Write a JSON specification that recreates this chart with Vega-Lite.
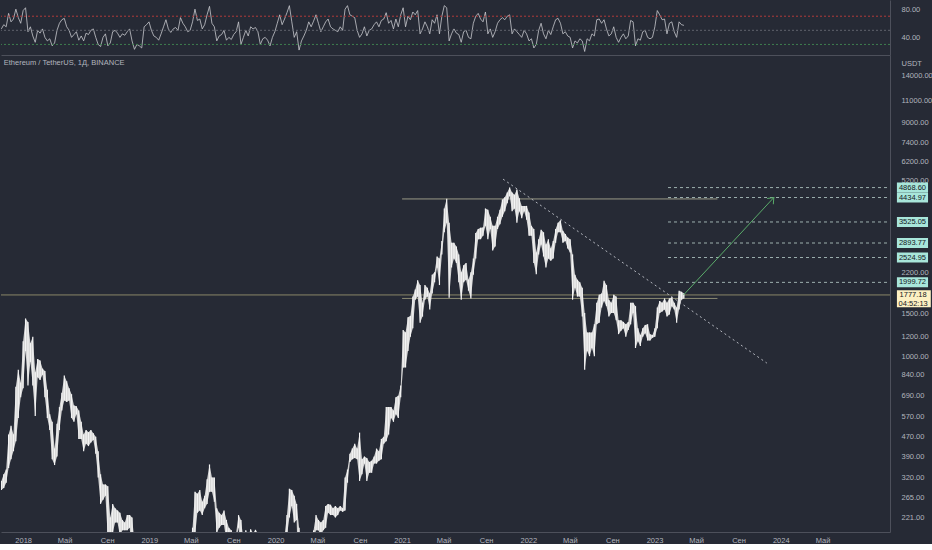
{
  "$schema": "https://vega.github.io/schema/vega-lite/v6.json",
  "background": "#262a35",
  "padding": 0,
  "spacing": 0,
  "config": {
    "view": {"stroke": null},
    "font": "Liberation Sans",
    "axis": {"domainColor": "#4d505b", "labelColor": "#b2b5be", "labelFontSize": 7.5, "grid": false, "ticks": false, "labelFont": "Liberation Sans"}
  },
  "datasets": {
    "eth": [
      {"d":"2017-10-30","l":285,"h":310,"r":52},{"d":"2017-11-06","l":290,"h":330,"r":58},{"d":"2017-11-13","l":305,"h":345,"r":55},{"d":"2017-11-20","l":350,"h":480,"r":74},{"d":"2017-11-27","l":380,"h":520,"r":62},{"d":"2017-12-04","l":410,"h":480,"r":66},{"d":"2017-12-11","l":450,"h":750,"r":80},{"d":"2017-12-18","l":560,"h":880,"r":68},{"d":"2017-12-25","l":680,"h":780,"r":60},
      {"d":"2018-01-01","l":740,"h":1150,"r":78},{"d":"2018-01-08","l":1050,"h":1425,"r":82},{"d":"2018-01-15","l":760,"h":1380,"r":48},{"d":"2018-01-22","l":950,"h":1130,"r":55},{"d":"2018-01-29","l":760,"h":1200,"r":42},{"d":"2018-02-05","l":570,"h":860,"r":33},{"d":"2018-02-12","l":820,"h":975,"r":50},{"d":"2018-02-19","l":800,"h":960,"r":46},{"d":"2018-02-26","l":840,"h":890,"r":52},{"d":"2018-03-05","l":680,"h":870,"r":40},{"d":"2018-03-12","l":560,"h":730,"r":35},{"d":"2018-03-19","l":500,"h":580,"r":38},{"d":"2018-03-26","l":380,"h":540,"r":28},{"d":"2018-04-02","l":360,"h":420,"r":32},{"d":"2018-04-09","l":390,"h":530,"r":50},{"d":"2018-04-16","l":500,"h":620,"r":60},{"d":"2018-04-23","l":600,"h":710,"r":65},{"d":"2018-04-30","l":660,"h":835,"r":67},{"d":"2018-05-07","l":650,"h":790,"r":55},{"d":"2018-05-14","l":660,"h":740,"r":50},{"d":"2018-05-21","l":560,"h":700,"r":40},{"d":"2018-05-28","l":540,"h":630,"r":44},{"d":"2018-06-04","l":580,"h":625,"r":48},{"d":"2018-06-11","l":460,"h":600,"r":36},{"d":"2018-06-18","l":460,"h":540,"r":42},{"d":"2018-06-25","l":410,"h":480,"r":35},{"d":"2018-07-02","l":440,"h":500,"r":46},{"d":"2018-07-09","l":430,"h":490,"r":44},{"d":"2018-07-16","l":445,"h":500,"r":50},{"d":"2018-07-23","l":455,"h":485,"r":52},{"d":"2018-07-30","l":400,"h":470,"r":40},{"d":"2018-08-06","l":320,"h":410,"r":30},{"d":"2018-08-13","l":250,"h":330,"r":27},{"d":"2018-08-20","l":260,"h":300,"r":40},{"d":"2018-08-27","l":270,"h":300,"r":45},{"d":"2018-09-03","l":180,"h":295,"r":28},{"d":"2018-09-10","l":167,"h":220,"r":32},{"d":"2018-09-17","l":190,"h":250,"r":48},{"d":"2018-09-24","l":210,"h":240,"r":50},{"d":"2018-10-01","l":210,"h":235,"r":46},{"d":"2018-10-08","l":185,"h":230,"r":40},{"d":"2018-10-15","l":195,"h":215,"r":45},{"d":"2018-10-22","l":195,"h":210,"r":43},{"d":"2018-10-29","l":195,"h":225,"r":48},{"d":"2018-11-05","l":200,"h":225,"r":52},{"d":"2018-11-12","l":160,"h":220,"r":35},{"d":"2018-11-19","l":110,"h":175,"r":23},{"d":"2018-11-26","l":105,"h":130,"r":30},{"d":"2018-12-03","l":85,"h":120,"r":28},{"d":"2018-12-10","l":83,"h":95,"r":25},{"d":"2018-12-17","l":90,"h":150,"r":55},{"d":"2018-12-24","l":110,"h":150,"r":58},{"d":"2018-12-31","l":130,"h":160,"r":62},
      {"d":"2019-01-07","l":115,"h":160,"r":50},{"d":"2019-01-14","l":115,"h":130,"r":42},{"d":"2019-01-21","l":110,"h":125,"r":40},{"d":"2019-01-28","l":102,"h":115,"r":36},{"d":"2019-02-04","l":102,"h":125,"r":45},{"d":"2019-02-11","l":118,"h":140,"r":55},{"d":"2019-02-18","l":140,"h":165,"r":65},{"d":"2019-02-25","l":130,"h":145,"r":52},{"d":"2019-03-04","l":125,"h":140,"r":47},{"d":"2019-03-11","l":130,"h":140,"r":52},{"d":"2019-03-18","l":133,"h":143,"r":54},{"d":"2019-03-25","l":130,"h":145,"r":50},{"d":"2019-04-01","l":140,"h":185,"r":68},{"d":"2019-04-08","l":155,"h":185,"r":60},{"d":"2019-04-15","l":160,"h":180,"r":55},{"d":"2019-04-22","l":150,"h":180,"r":48},{"d":"2019-04-29","l":155,"h":175,"r":50},{"d":"2019-05-06","l":165,"h":200,"r":62},{"d":"2019-05-13","l":185,"h":280,"r":80},{"d":"2019-05-20","l":230,"h":275,"r":64},{"d":"2019-05-27","l":235,"h":285,"r":66},{"d":"2019-06-03","l":225,"h":255,"r":52},{"d":"2019-06-10","l":240,"h":270,"r":58},{"d":"2019-06-17","l":250,"h":315,"r":72},{"d":"2019-06-24","l":280,"h":362,"r":84},{"d":"2019-07-01","l":280,"h":320,"r":60},{"d":"2019-07-08","l":255,"h":320,"r":55},{"d":"2019-07-15","l":190,"h":240,"r":35},{"d":"2019-07-22","l":200,"h":230,"r":42},{"d":"2019-07-29","l":205,"h":225,"r":44},{"d":"2019-08-05","l":205,"h":235,"r":50},{"d":"2019-08-12","l":175,"h":215,"r":36},{"d":"2019-08-19","l":180,"h":200,"r":40},{"d":"2019-08-26","l":165,"h":195,"r":37},{"d":"2019-09-02","l":170,"h":180,"r":44},{"d":"2019-09-09","l":175,"h":190,"r":48},{"d":"2019-09-16","l":200,"h":225,"r":62},{"d":"2019-09-23","l":160,"h":215,"r":30},{"d":"2019-09-30","l":165,"h":180,"r":40},{"d":"2019-10-07","l":175,"h":195,"r":50},{"d":"2019-10-14","l":165,"h":185,"r":42},{"d":"2019-10-21","l":160,"h":197,"r":55},{"d":"2019-10-28","l":175,"h":190,"r":52},{"d":"2019-11-04","l":180,"h":196,"r":54},{"d":"2019-11-11","l":175,"h":190,"r":48},{"d":"2019-11-18","l":140,"h":180,"r":30},{"d":"2019-11-25","l":145,"h":160,"r":38},{"d":"2019-12-02","l":145,"h":155,"r":40},{"d":"2019-12-09","l":140,"h":150,"r":36},{"d":"2019-12-16","l":118,"h":145,"r":28},{"d":"2019-12-23","l":125,"h":135,"r":40},{"d":"2019-12-30","l":127,"h":145,"r":48},
      {"d":"2020-01-06","l":135,"h":150,"r":60},{"d":"2020-01-13","l":145,"h":180,"r":72},{"d":"2020-01-20","l":155,"h":170,"r":58},{"d":"2020-01-27","l":170,"h":185,"r":66},{"d":"2020-02-03","l":185,"h":225,"r":75},{"d":"2020-02-10","l":220,"h":288,"r":85},{"d":"2020-02-17","l":245,"h":285,"r":62},{"d":"2020-02-24","l":210,"h":270,"r":40},{"d":"2020-03-02","l":215,"h":250,"r":48},{"d":"2020-03-09","l":95,"h":200,"r":22},{"d":"2020-03-16","l":110,"h":150,"r":35},{"d":"2020-03-23","l":125,"h":145,"r":42},{"d":"2020-03-30","l":125,"h":150,"r":50},{"d":"2020-04-06","l":150,"h":175,"r":62},{"d":"2020-04-13","l":150,"h":175,"r":55},{"d":"2020-04-20","l":175,"h":195,"r":63},{"d":"2020-04-27","l":195,"h":225,"r":72},{"d":"2020-05-04","l":195,"h":215,"r":60},{"d":"2020-05-11","l":185,"h":210,"r":48},{"d":"2020-05-18","l":195,"h":215,"r":55},{"d":"2020-05-25","l":200,"h":245,"r":62},{"d":"2020-06-01","l":230,"h":250,"r":66},{"d":"2020-06-08","l":225,"h":248,"r":55},{"d":"2020-06-15","l":225,"h":240,"r":52},{"d":"2020-06-22","l":220,"h":245,"r":50},{"d":"2020-06-29","l":225,"h":240,"r":48},{"d":"2020-07-06","l":235,"h":245,"r":55},{"d":"2020-07-13","l":232,"h":240,"r":50},{"d":"2020-07-20","l":235,"h":320,"r":80},{"d":"2020-07-27","l":305,"h":345,"r":85},{"d":"2020-08-03","l":370,"h":400,"r":72},{"d":"2020-08-10","l":380,"h":420,"r":70},{"d":"2020-08-17","l":385,"h":440,"r":68},{"d":"2020-08-24","l":380,"h":420,"r":50},{"d":"2020-08-31","l":310,"h":488,"r":40},{"d":"2020-09-07","l":330,"h":380,"r":45},{"d":"2020-09-14","l":365,"h":390,"r":55},{"d":"2020-09-21","l":310,"h":385,"r":42},{"d":"2020-09-28","l":335,"h":370,"r":50},{"d":"2020-10-05","l":335,"h":375,"r":52},{"d":"2020-10-12","l":365,"h":390,"r":58},{"d":"2020-10-19","l":365,"h":420,"r":62},{"d":"2020-10-26","l":375,"h":410,"r":55},{"d":"2020-11-02","l":380,"h":460,"r":64},{"d":"2020-11-09","l":440,"h":470,"r":66},{"d":"2020-11-16","l":450,"h":620,"r":75},{"d":"2020-11-23","l":480,"h":620,"r":60},{"d":"2020-11-30","l":560,"h":620,"r":64},{"d":"2020-12-07","l":540,"h":600,"r":52},{"d":"2020-12-14","l":580,"h":680,"r":66},{"d":"2020-12-21","l":560,"h":690,"r":55},{"d":"2020-12-28","l":680,"h":760,"r":72},
      {"d":"2021-01-04","l":900,"h":1280,"r":82},{"d":"2021-01-11","l":900,"h":1250,"r":55},{"d":"2021-01-18","l":1050,"h":1440,"r":70},{"d":"2021-01-25","l":1200,"h":1460,"r":65},{"d":"2021-02-01","l":1300,"h":1750,"r":76},{"d":"2021-02-08","l":1700,"h":1870,"r":72},{"d":"2021-02-15","l":1750,"h":2040,"r":78},{"d":"2021-02-22","l":1370,"h":1950,"r":45},{"d":"2021-03-01","l":1450,"h":1650,"r":52},{"d":"2021-03-08","l":1700,"h":1950,"r":62},{"d":"2021-03-15","l":1750,"h":1900,"r":55},{"d":"2021-03-22","l":1550,"h":1800,"r":45},{"d":"2021-03-29","l":1800,"h":2150,"r":65},{"d":"2021-04-05","l":2000,"h":2200,"r":60},{"d":"2021-04-12","l":2300,"h":2550,"r":72},{"d":"2021-04-19","l":1950,"h":2500,"r":45},{"d":"2021-04-26","l":2600,"h":2950,"r":70},{"d":"2021-05-03","l":3200,"h":4000,"r":85},{"d":"2021-05-10","l":3500,"h":4380,"r":82},{"d":"2021-05-17","l":1730,"h":3500,"r":35},{"d":"2021-05-24","l":2300,"h":2900,"r":45},{"d":"2021-05-31","l":2500,"h":2900,"r":52},{"d":"2021-06-07","l":2400,"h":2800,"r":46},{"d":"2021-06-14","l":2000,"h":2600,"r":44},{"d":"2021-06-21","l":1700,"h":2200,"r":33},{"d":"2021-06-28","l":2000,"h":2350,"r":48},{"d":"2021-07-05","l":2050,"h":2400,"r":50},{"d":"2021-07-12","l":1850,"h":2050,"r":40},{"d":"2021-07-19","l":1720,"h":2200,"r":38},{"d":"2021-07-26","l":2150,"h":2500,"r":60},{"d":"2021-08-02","l":2500,"h":3180,"r":70},{"d":"2021-08-09","l":3000,"h":3300,"r":74},{"d":"2021-08-16","l":3000,"h":3340,"r":66},{"d":"2021-08-23","l":3100,"h":3350,"r":62},{"d":"2021-08-30","l":3400,"h":4000,"r":76},{"d":"2021-09-06","l":3000,"h":3950,"r":45},{"d":"2021-09-13","l":3300,"h":3700,"r":52},{"d":"2021-09-20","l":2700,"h":3400,"r":40},{"d":"2021-09-27","l":2800,"h":3400,"r":48},{"d":"2021-10-04","l":3300,"h":3700,"r":60},{"d":"2021-10-11","l":3450,"h":3950,"r":65},{"d":"2021-10-18","l":3700,"h":4350,"r":68},{"d":"2021-10-25","l":3900,"h":4450,"r":65},{"d":"2021-11-01","l":4200,"h":4650,"r":70},{"d":"2021-11-08","l":4500,"h":4868,"r":72},{"d":"2021-11-15","l":3900,"h":4650,"r":45},{"d":"2021-11-22","l":4000,"h":4550,"r":52},{"d":"2021-11-29","l":3500,"h":4780,"r":48},{"d":"2021-12-06","l":3900,"h":4400,"r":44},{"d":"2021-12-13","l":3650,"h":4100,"r":40},{"d":"2021-12-20","l":3900,"h":4100,"r":50},{"d":"2021-12-27","l":3600,"h":4100,"r":45},
      {"d":"2022-01-03","l":3100,"h":3850,"r":35},{"d":"2022-01-10","l":3100,"h":3400,"r":38},{"d":"2022-01-17","l":2400,"h":3300,"r":25},{"d":"2022-01-24","l":2160,"h":2650,"r":30},{"d":"2022-01-31","l":2600,"h":3000,"r":50},{"d":"2022-02-07","l":2850,"h":3280,"r":60},{"d":"2022-02-14","l":2550,"h":3200,"r":45},{"d":"2022-02-21","l":2300,"h":2850,"r":38},{"d":"2022-02-28","l":2500,"h":3000,"r":50},{"d":"2022-03-07","l":2450,"h":2750,"r":44},{"d":"2022-03-14","l":2500,"h":2950,"r":55},{"d":"2022-03-21","l":2900,"h":3300,"r":65},{"d":"2022-03-28","l":3200,"h":3500,"r":67},{"d":"2022-04-04","l":3200,"h":3580,"r":60},{"d":"2022-04-11","l":2900,"h":3250,"r":45},{"d":"2022-04-18","l":2950,"h":3150,"r":48},{"d":"2022-04-25","l":2750,"h":3050,"r":42},{"d":"2022-05-02","l":2650,"h":3000,"r":40},{"d":"2022-05-09","l":1700,"h":2600,"r":25},{"d":"2022-05-16","l":1900,"h":2150,"r":35},{"d":"2022-05-23","l":1750,"h":2050,"r":32},{"d":"2022-05-30","l":1750,"h":2000,"r":38},{"d":"2022-06-06","l":1450,"h":1900,"r":35},{"d":"2022-06-13","l":880,"h":1500,"r":20},{"d":"2022-06-20","l":1050,"h":1250,"r":38},{"d":"2022-06-27","l":1000,"h":1250,"r":35},{"d":"2022-07-04","l":1080,"h":1250,"r":45},{"d":"2022-07-11","l":1000,"h":1350,"r":42},{"d":"2022-07-18","l":1350,"h":1650,"r":65},{"d":"2022-07-25","l":1370,"h":1780,"r":66},{"d":"2022-08-01","l":1580,"h":1800,"r":60},{"d":"2022-08-08","l":1680,"h":2030,"r":65},{"d":"2022-08-15","l":1600,"h":1950,"r":52},{"d":"2022-08-22","l":1450,"h":1700,"r":42},{"d":"2022-08-29","l":1500,"h":1650,"r":45},{"d":"2022-09-05","l":1500,"h":1780,"r":55},{"d":"2022-09-12","l":1400,"h":1750,"r":40},{"d":"2022-09-19","l":1230,"h":1400,"r":33},{"d":"2022-09-26","l":1270,"h":1400,"r":40},{"d":"2022-10-03","l":1300,"h":1380,"r":45},{"d":"2022-10-10","l":1200,"h":1350,"r":38},{"d":"2022-10-17","l":1280,"h":1380,"r":42},{"d":"2022-10-24","l":1350,"h":1650,"r":64},{"d":"2022-10-31","l":1500,"h":1650,"r":62},{"d":"2022-11-07","l":1080,"h":1600,"r":28},{"d":"2022-11-14","l":1150,"h":1300,"r":38},{"d":"2022-11-21","l":1100,"h":1220,"r":36},{"d":"2022-11-28","l":1200,"h":1300,"r":48},{"d":"2022-12-05","l":1240,"h":1340,"r":50},{"d":"2022-12-12","l":1160,"h":1350,"r":40},{"d":"2022-12-19","l":1160,"h":1230,"r":38},{"d":"2022-12-26","l":1190,"h":1220,"r":40},
      {"d":"2023-01-02","l":1200,"h":1300,"r":55},{"d":"2023-01-09","l":1300,"h":1580,"r":78},{"d":"2023-01-16","l":1500,"h":1680,"r":72},{"d":"2023-01-23","l":1520,"h":1650,"r":65},{"d":"2023-01-30","l":1550,"h":1720,"r":66},{"d":"2023-02-06","l":1450,"h":1650,"r":45},{"d":"2023-02-13","l":1480,"h":1720,"r":60},{"d":"2023-02-20","l":1600,"h":1740,"r":62},{"d":"2023-02-27","l":1550,"h":1650,"r":48},{"d":"2023-03-06","l":1370,"h":1580,"r":40},{"d":"2023-03-13","l":1550,"h":1850,"r":62},{"d":"2023-03-20","l":1700,"h":1830,"r":58},{"d":"2023-03-27","l":1720,"h":1800,"r":57}
    ],
    "rsilev": [{"v":70,"c":"#b23b3b"},{"v":50,"c":"#5f626d"},{"v":30,"c":"#3f7f4e"}],
    "levels": [
      {"a":"2021-01-01","b":"2023-07-02","p":4376,"c":"#9a9a86"},
      {"a":"2021-01-01","b":"2023-07-02","p":1720,"c":"#8c8b72"},
      {"a":"2017-10-29","b":"2024-11-12","p":1777.18,"c":"#8a8768"}
    ],
    "targets": [{"p":4868.60},{"p":4434.97},{"p":3525.05},{"p":2893.77},{"p":2524.95},{"p":1999.72}],
    "trend": [{"d":"2021-10-20","p":5270},{"d":"2023-11-22","p":937}],
    "arrow": [{"d":"2023-03-26","p":1777,"h":0},{"d":"2023-12-12","p":4435,"h":1}],
    "cur": [{"p":1777.18,"t":"1777.18","c":"04:52:13"}],
    "caption": [{"t":"Ethereum / TetherUS, 1Д, BINANCE"}]
  },
  "vconcat": [
    {
      "width": 889,
      "height": 55,
      "layer": [
        {
          "data": {"name": "eth"},
          "mark": {"type": "line", "color": "#c8c9ce", "strokeWidth": 0.8, "clip": true},
          "encoding": {
            "x": {"field": "d", "type": "temporal", "scale": {"type": "utc", "domain": [{"year":2017,"month":10,"date":29,"utc":true},{"year":2024,"month":11,"date":12,"utc":true}]}, "axis": {"labels": false, "ticks": false, "domain": true, "title": null}},
            "y": {"field": "r", "type": "quantitative", "scale": {"domain": [15, 93], "nice": false, "zero": false}, "axis": {"orient": "right", "values": [40, 80], "format": ".2f", "labelAlign": "left", "labelPadding": 11, "labelBaseline": "middle", "title": null}}
          }
        },
        {
          "data": {"name": "rsilev"},
          "mark": {"type": "rule", "strokeDash": [2, 2], "strokeWidth": 1},
          "encoding": {
            "y": {"field": "v", "type": "quantitative"},
            "color": {"field": "c", "type": "nominal", "scale": null}
          }
        }
      ]
    },
    {
      "width": 889,
      "height": 477,
      "layer": [
        {
          "data": {"name": "levels"},
          "mark": {"type": "rule", "strokeWidth": 1},
          "encoding": {
            "x": {"field": "a", "type": "temporal", "scale": {"type": "utc", "domain": [{"year":2017,"month":10,"date":29,"utc":true},{"year":2024,"month":11,"date":12,"utc":true}]},
              "axis": {"title": null, "domain": true, "ticks": false, "labelPadding": 4, "labelFlush": false, "labelOverlap": false, "labelBaseline": "top",
                "values": [
                  {"year":2018,"month":1,"date":1,"utc":true},{"year":2018,"month":5,"date":1,"utc":true},{"year":2018,"month":9,"date":1,"utc":true},
                  {"year":2019,"month":1,"date":1,"utc":true},{"year":2019,"month":5,"date":1,"utc":true},{"year":2019,"month":9,"date":1,"utc":true},
                  {"year":2020,"month":1,"date":1,"utc":true},{"year":2020,"month":5,"date":1,"utc":true},{"year":2020,"month":9,"date":1,"utc":true},
                  {"year":2021,"month":1,"date":1,"utc":true},{"year":2021,"month":5,"date":1,"utc":true},{"year":2021,"month":9,"date":1,"utc":true},
                  {"year":2022,"month":1,"date":1,"utc":true},{"year":2022,"month":5,"date":1,"utc":true},{"year":2022,"month":9,"date":1,"utc":true},
                  {"year":2023,"month":1,"date":1,"utc":true},{"year":2023,"month":5,"date":1,"utc":true},{"year":2023,"month":9,"date":1,"utc":true},
                  {"year":2024,"month":1,"date":1,"utc":true},{"year":2024,"month":5,"date":1,"utc":true}
                ],
                "labelExpr": "utcmonth(datum.value) == 0 ? '' + utcyear(datum.value) : (utcmonth(datum.value) == 4 ? 'Май' : 'Сен')"}},
            "x2": {"field": "b"},
            "y": {"field": "p", "type": "quantitative", "scale": {"type": "log", "domain": [192, 16900], "nice": false},
              "axis": {"orient": "right", "format": ".2f", "labelAlign": "left", "labelPadding": 11, "labelBaseline": "middle", "labelOverlap": false, "labelFlush": false,
                "values": [221, 265, 320, 390, 470, 570, 690, 840, 1000, 1200, 1500, 2200, 5200, 6200, 7400, 9000, 11000, 14000],
                "title": "USDT", "titleAngle": 0, "titleAlign": "left", "titleBaseline": "middle", "titleX": 11, "titleY": 8, "titleFontSize": 7.5, "titleFontWeight": "normal", "titleColor": "#b2b5be", "titleFont": "Liberation Sans"}},
            "color": {"field": "c", "type": "nominal", "scale": null}
          }
        },
        {
          "data": {"name": "targets"},
          "mark": {"type": "rule", "strokeDash": [3, 3], "strokeWidth": 1, "color": "#9db0ae"},
          "encoding": {
            "x": {"datum": {"year":2023,"month":2,"date":9,"utc":true}, "type": "temporal"},
            "x2": {"datum": {"year":2024,"month":11,"date":12,"utc":true}},
            "y": {"field": "p", "type": "quantitative"}
          }
        },
        {
          "data": {"name": "trend"},
          "mark": {"type": "line", "strokeDash": [2, 3], "strokeWidth": 1, "color": "#b4b7bf"},
          "encoding": {
            "x": {"field": "d", "type": "temporal"},
            "y": {"field": "p", "type": "quantitative"}
          }
        },
        {
          "data": {"name": "eth"},
          "mark": {"type": "area", "color": "#dcdcdc", "opacity": 0.95, "clip": true},
          "encoding": {
            "x": {"field": "d", "type": "temporal"},
            "y": {"field": "l", "type": "quantitative"},
            "y2": {"field": "h"}
          }
        },
        {
          "data": {"name": "eth"},
          "mark": {"type": "rule", "strokeWidth": 1.2, "color": "#f4f4f4", "clip": true},
          "encoding": {
            "x": {"field": "d", "type": "temporal"},
            "y": {"field": "l", "type": "quantitative"},
            "y2": {"field": "h"}
          }
        },
        {
          "data": {"name": "arrow"},
          "mark": {"type": "line", "strokeWidth": 1, "color": "#5aab6a"},
          "encoding": {
            "x": {"field": "d", "type": "temporal"},
            "y": {"field": "p", "type": "quantitative"}
          }
        },
        {
          "data": {"name": "arrow"},
          "transform": [{"filter": "datum.h == 1"}],
          "mark": {"type": "point", "shape": "M-0.8,1L0,0L0.8,1", "filled": false, "stroke": "#5aab6a", "strokeWidth": 1, "size": 110, "angle": 43, "opacity": 1},
          "encoding": {
            "x": {"field": "d", "type": "temporal"},
            "y": {"field": "p", "type": "quantitative"}
          }
        },
        {
          "data": {"name": "targets"},
          "mark": {"type": "rect", "height": 10, "color": "#a8e6da", "clip": false},
          "encoding": {
            "x": {"datum": {"year":2024,"month":12,"date":2,"utc":true}, "type": "temporal"},
            "x2": {"datum": {"year":2025,"month":3,"date":2,"utc":true}},
            "y": {"field": "p", "type": "quantitative"}
          }
        },
        {
          "data": {"name": "targets"},
          "mark": {"type": "text", "fontSize": 7.5, "color": "#131722", "align": "center", "baseline": "middle", "clip": false},
          "encoding": {
            "x": {"datum": {"year":2025,"month":1,"date":16,"utc":true}, "type": "temporal"},
            "y": {"field": "p", "type": "quantitative"},
            "text": {"field": "p", "type": "quantitative", "format": ".2f"}
          }
        },
        {
          "data": {"name": "cur"},
          "mark": {"type": "rect", "color": "#fdf0c3", "clip": false},
          "encoding": {
            "x": {"datum": {"year":2024,"month":12,"date":2,"utc":true}, "type": "temporal"},
            "x2": {"datum": {"year":2025,"month":3,"date":10,"utc":true}},
            "y": {"datum": 1859, "type": "quantitative"},
            "y2": {"datum": 1585}
          }
        },
        {
          "data": {"name": "cur"},
          "mark": {"type": "text", "fontSize": 7.5, "color": "#131722", "align": "center", "baseline": "middle", "clip": false},
          "encoding": {
            "x": {"datum": {"year":2025,"month":1,"date":18,"utc":true}, "type": "temporal"},
            "y": {"field": "p", "type": "quantitative"},
            "text": {"field": "t"}
          }
        },
        {
          "data": {"name": "cur"},
          "mark": {"type": "text", "fontSize": 7.5, "color": "#131722", "align": "center", "baseline": "middle", "dy": 9, "clip": false},
          "encoding": {
            "x": {"datum": {"year":2025,"month":1,"date":18,"utc":true}, "type": "temporal"},
            "y": {"field": "p", "type": "quantitative"},
            "text": {"field": "c"}
          }
        },
        {
          "data": {"name": "caption"},
          "mark": {"type": "text", "fontSize": 7.5, "color": "#b2b5be", "align": "left", "baseline": "middle"},
          "encoding": {
            "x": {"datum": {"year":2017,"month":11,"date":6,"utc":true}, "type": "temporal"},
            "y": {"datum": 15680, "type": "quantitative"},
            "text": {"field": "t"}
          }
        }
      ]
    }
  ]
}
